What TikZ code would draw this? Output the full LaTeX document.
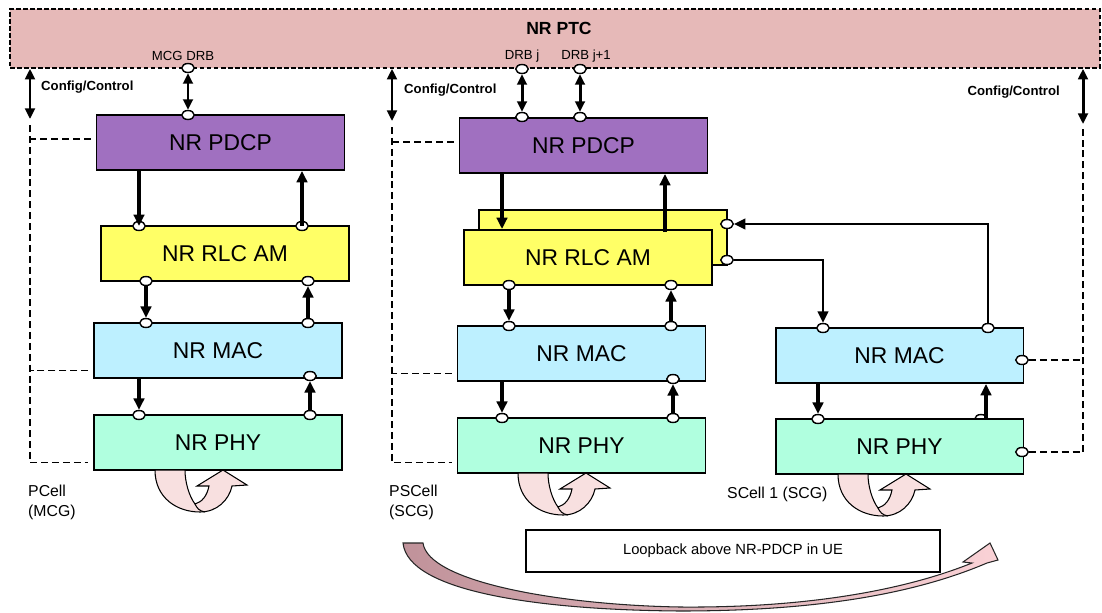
\documentclass[tikz,border=0pt]{standalone}
\usepackage{fontspec}
\setmainfont{Liberation Sans}
\usetikzlibrary{arrows.meta,shapes.geometric}
\definecolor{ptcpink}{HTML}{E6B9B8}
\definecolor{pdcpviolet}{HTML}{A070C0}
\definecolor{rlcyellow}{HTML}{FFFF66}
\definecolor{macblue}{HTML}{BDF0FF}
\definecolor{phygreen}{HTML}{B0FFDF}
\definecolor{looppink}{HTML}{F8E0E0}
\definecolor{arrowrose}{HTML}{C0929A}
\definecolor{arrowpale}{HTML}{FAD2D6}
\tikzset{
  layer/.style={draw, line width=1.1pt, minimum width=4.96cm, minimum height=1.1cm, inner sep=0pt, font=\fontsize{13}{15}\selectfont},
  port/.style={ellipse, draw, fill=white, line width=0.8pt, inner sep=0pt, minimum width=0.25cm, minimum height=0.18cm},
  flow/.style={line width=1.9pt, -{Triangle[length=6.5pt,width=6pt]}},
  dbl/.style={line width=1.7pt, {Triangle[length=6pt,width=5.5pt]}-{Triangle[length=6pt,width=5.5pt]}},
  ctrl/.style={line width=0.9pt, dash pattern=on 4pt off 2.2pt},
  lbl/.style={font=\fontsize{7.5}{9}\selectfont},
  cfglbl/.style={font=\bfseries\fontsize{7.5}{9}\selectfont},
  cell/.style={font=\fontsize{9}{11.5}\selectfont, align=left}
}
\begin{document}
\begin{tikzpicture}[x=0.02cm, y=-0.02cm]
\useasboundingbox (0,0) rectangle (1102,612);

% PTC band
\node[draw, fill=ptcpink, line width=0.9pt, dash pattern=on 2.6pt off 1.4pt, minimum width=21.8cm, minimum height=1.18cm] (ptc) at (555,38.5) {};
\node[font=\bfseries\fontsize{10}{12}\selectfont] (ptclab) at (559,28) {NR PTC};

% hidden port behind SCell PHY
\node[port] (hC2) at (981,419) {};

% layers
\node[layer, fill=pdcpviolet] (pdcpA) at (220.5,142.5) {NR PDCP};
\node[layer, fill=rlcyellow]  (rlcA)  at (225,253.5) {NR RLC AM};
\node[layer, fill=macblue]    (macA)  at (218,350.5) {NR MAC};
\node[layer, fill=phygreen]   (phyA)  at (218,442.5) {NR PHY};

\node[layer, fill=pdcpviolet] (pdcpB) at (583.5,145.5) {NR PDCP};
\node[layer, fill=rlcyellow]  (rlcB2) at (603,237.5) {};
\node[layer, fill=rlcyellow]  (rlcB)  at (588,257.5) {NR RLC AM};
\node[layer, fill=macblue]    (macB)  at (581.5,353.5) {NR MAC};
\node[layer, fill=phygreen]   (phyB)  at (581.5,445.5) {NR PHY};

\node[layer, fill=macblue]    (macC)  at (899.5,355.5) {NR MAC};
\node[layer, fill=phygreen]   (phyC)  at (899.5,446.5) {NR PHY};

% ports
\foreach \n/\x/\y in {drbA/188/68, pdA/188/115, rA1/139/226, rA2/302/226, rA3/146/281, rA4/308/281,
    mA1/146/323, mA2/308/323, mA3/310/376, hA1/139/415, hA2/310/415,
    drbB1/522/69, drbB2/580/69, pdB1/522/117, pdB2/580/117, rB1/509/285, rB2/671/285,
    mB1/509/326, mB2/671/326, mB3/673/379, hB1/502/418, hB2/673/418, sB1/727/224, sB2/727/260,
    mC1/823/328, mC2/988/328, mC3/1022/360, hC1/818/419, hC3/1022/452}
  \node[port] (\n) at (\x,\y) {};

\coordinate (dnB) at (502,229);
\coordinate (upB) at (665,232);
\coordinate (upC) at (986,419);
\coordinate (cA) at (30,119);
\coordinate (cB) at (392,121);
\coordinate (cC) at (1083,124);

% data paths
\draw[dbl] (drbA) -- (pdA);
\draw[dbl] (drbB1) -- (pdB1);
\draw[dbl] (drbB2) -- (pdB2);

\draw[flow] (pdcpA.south -| rA1) -- (rA1.center);
\draw[flow] (rA2.center) -- (rA2 |- pdcpA.south);
\draw[flow] (rA3) -- (mA1);
\draw[flow] (mA2) -- (rA4);
\draw[flow] (macA.south -| hA1) -- (hA1);
\draw[flow] (hA2) -- (mA3);

\draw[flow] (pdcpB.south -| dnB) -- (dnB);
\draw[flow] (upB) -- (upB |- pdcpB.south);
\draw[flow] (rB1) -- (mB1);
\draw[flow] (mB2) -- (rB2);
\draw[flow] (macB.south -| hB1) -- (hB1);
\draw[flow] (hB2) -- (mB3);

\draw[flow, line width=1.2pt] (mC2) |- (sB1);
\draw[flow, line width=1.2pt] (sB2) -| (mC1);
\draw[flow] (macC.south -| hC1) -- (hC1);
\draw[flow] (upC) -- (upC |- macC.south);

% config / control
\draw[dbl] (cA |- ptc.south) -- (cA);
\draw[dbl] (cB |- ptc.south) -- (cB);
\draw[dbl] (cC |- ptc.south) -- (cC);
\node[cfglbl, anchor=west] (cfgA) at (35,87) {Config/Control};
\node[cfglbl, anchor=west] (cfgB) at (398,90) {Config/Control};
\node[cfglbl, anchor=east] (cfgC) at (1066,92) {Config/Control};

\draw[ctrl] ([yshift=-0.12cm]cA) |- ([xshift=-0.1cm,yshift=-0.4cm]phyA.west);
\draw[ctrl] ([xshift=-0.1cm,yshift=0.07cm]pdcpA.west) -- ([yshift=0.07cm]pdcpA.west -| cA);
\draw[ctrl] ([xshift=-0.1cm,yshift=-0.4cm]macA.west) -- ([yshift=-0.4cm]macA.west -| cA);

\draw[ctrl] ([yshift=-0.12cm]cB) |- ([xshift=-0.1cm,yshift=-0.34cm]phyB.west);
\draw[ctrl] ([xshift=-0.1cm,yshift=0.07cm]pdcpB.west) -- ([yshift=0.07cm]pdcpB.west -| cB);
\draw[ctrl] ([xshift=-0.1cm,yshift=-0.4cm]macB.west) -- ([yshift=-0.4cm]macB.west -| cB);

\draw[ctrl] (mC3) -- (mC3 -| cC);
\draw[ctrl] (hC3) -| ([yshift=-0.1cm]cC);

% labels
\node[lbl] (mcglab) at (183,56) {MCG DRB};
\node[lbl] (drbjlab) at (522,56) {DRB j};
\node[lbl] (drbj1lab) at (586,56) {DRB j+1};
\node[cell, anchor=north west] (pcell) at (22,479) {PCell\\(MCG)};
\node[cell, anchor=north west] (pscell) at (383,479) {PSCell\\(SCG)};
\node[cell, anchor=west] (scell) at (721,494) {SCell 1 (SCG)};

% loopback under each PHY
\foreach \lx/\ly in {155/470, 518/473, 838/474}{
  \begin{scope}[shift={(\lx,\ly)}]
    \draw[fill=looppink, line width=0.6pt] (0,0) .. controls (0,28) and (22,42) .. (45,42)
      .. controls (62,42) and (74,30) .. (77,16) -- (92,15) -- (68,0) -- (42,16) -- (54,16)
      .. controls (52,26) and (47,32) .. (40,34) .. controls (34,26) and (30,12) .. (30,0) -- cycle;
    \draw[line width=0.6pt] (40,34) .. controls (42,38) and (44,41) .. (50,42);
  \end{scope}
}

% loopback above PDCP
\path[draw=black!85, line width=0.6pt, left color=arrowrose, right color=arrowpale]
  (403,543) -- (423,543) .. controls (428,582) and (560,605) .. (680,607)
  .. controls (800,608) and (900,592) .. (972,563) -- (963,562) -- (990,543) -- (998,560) -- (987,563)
  .. controls (905,598) and (800,611) .. (680,611) .. controls (540,610) and (408,592) .. (403,543) -- cycle;
\node[draw, fill=white, line width=0.8pt, minimum width=8.28cm, minimum height=0.84cm, font=\fontsize{8.4}{10}\selectfont] (loopbox) at (733,551) {Loopback above NR-PDCP in UE};

\end{tikzpicture}
\end{document}
